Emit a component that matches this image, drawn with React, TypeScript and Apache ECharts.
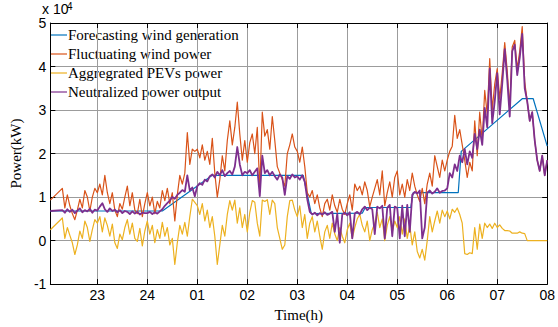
import React, { useEffect, useRef } from "react";
import * as echarts from "echarts";

// ---- axis ticks ----
const HOUR_TICKS = [23, 24, 25, 26, 27, 28, 29, 30, 31, 32];
const HOUR_LABELS = ["23", "24", "01", "02", "03", "04", "05", "06", "07", "08"];
const X_MIN = 22.06;
const X_MAX = 32;
const Y_MIN = -1;
const Y_MAX = 5;

// ---- sampling (hours) ----
const leadTime = 22.06;
const sampleStart = 22.3;
const sampleStep = 0.05;

// ---- values in units of 10^4 kW ----
const forecastTimes = [22.06, 24.3, 25.3, 27.12, 27.28, 28.3, 28.36, 29.27, 29.32, 30.22, 30.28, 31.5, 31.72, 32.0];
const forecastPower = [0.68, 0.68, 1.5, 1.5, 0.62, 0.63, 0.76, 0.76, 1.1, 1.1, 2.05, 3.26, 3.26, 2.17];

const leadWind = 0.93;
const leadPev = 0.25;
const leadNeutral = 0.68;

const windPower = [
  1.20, 0.75, 1.05, 0.80, 0.62, 0.48, 0.70, 0.95, 0.75, 1.15, 1.00, 0.68, 1.00, 1.20,
  1.10, 1.30, 1.05, 1.50, 1.10, 0.85, 1.10, 0.70, 0.55, 0.85, 0.72, 1.00, 1.25, 0.80, 1.10, 0.70, 0.62, 0.95, 0.55, 0.85,
  1.10, 0.80, 1.00, 0.62, 0.90, 0.75, 1.15, 0.92, 1.20, 0.85, 1.10, 0.45, 1.05, 1.50, 1.30, 1.55, 2.48, 1.75, 2.10, 2.05,
  2.10, 1.90, 2.20, 1.85, 2.05, 1.75, 2.35, 1.55, 1.00, 1.40, 1.95, 1.60, 2.30, 2.75, 2.20, 2.60, 3.18, 2.45, 1.85, 2.30,
  1.80, 2.25, 2.45, 2.00, 2.60, 1.20, 2.95, 2.40, 2.55, 2.10, 2.85, 2.30, 1.70, 1.55, 1.40, 1.25, 2.00, 2.20, 2.45, 2.15,
  2.05, 1.80, 2.15, 1.70, 1.10, 1.00, 1.15, 0.85, 1.05, 0.75, 0.55, 0.85, 0.95, 0.70, 1.05, 0.80, 0.65, 0.95, 0.72, 0.60,
  0.85, 1.05, 0.70, 1.30, 1.15, 1.25, 1.05, 1.35, 1.15, 0.78, 1.00, 1.20, 1.40, 1.05, 1.60, 0.80, 1.10, 1.35, 1.00, 1.45,
  1.60, 1.05, 1.30, 1.00, 1.40, 1.15, 1.55, 1.25, 1.05, 0.90, 1.20, 0.85, 1.30, 1.55, 1.25, 1.95, 1.70, 1.45, 1.85, 1.60,
  1.85, 2.05, 2.17, 2.88, 2.35, 2.55, 2.20, 1.85, 1.45, 1.80, 1.60, 2.75, 1.95, 2.95, 2.30, 3.45, 2.90, 4.18, 3.00, 3.60,
  3.95, 3.25, 3.85, 4.55, 3.90, 3.05, 4.45, 4.60, 3.95, 4.35, 4.92, 3.65, 3.20, 2.75, 2.95, 2.30, 1.85, 1.60, 1.95, 1.50,
  1.85,
];

const pevPower = [
  0.52, 0.05, 0.30, 0.12, -0.05, -0.32, -0.10, 0.22, 0.05, 0.45, 0.30, -0.02, 0.25, 0.48,
  0.40, 0.55, 0.20, 0.52, 0.35, 0.10, 0.38, -0.05, -0.18, 0.15, 0.02, 0.30, 0.48, 0.15, 0.40, 0.05, -0.02, 0.28, -0.12, 0.22,
  0.45, 0.15, 0.35, -0.05, 0.25, 0.05, 0.42, 0.10, 0.30, -0.10, 0.05, -0.55, -0.05, 0.35, 0.15, 0.42, 0.10, 0.55, 0.95, 0.88,
  0.80, 0.60, 0.85, 0.45, 0.70, 0.30, 0.55, 0.10, -0.55, -0.10, 0.35, 0.10, 0.60, 0.92, 0.70, 0.93, 0.40, 0.75, 0.30, 0.60,
  0.20, 0.65, 0.92, 0.88, 0.40, 0.10, 0.93, 0.90, 0.94, 0.60, 0.93, 0.85, 0.30, 0.05, -0.20, -0.10, 0.55, 0.92, 0.93, 0.70,
  0.55, 0.80, 0.30, 0.60, 0.05, 0.40, 0.55, 0.20, 0.45, 0.10, -0.20, 0.20, 0.35, 0.05, 0.40, 0.15, 0.00, 0.30, 0.10, -0.05,
  0.25, 0.40, 0.05, 0.30, 0.50, 0.60, 0.35, 0.20, 0.45, 0.00, 0.25, 0.40, 0.65, 0.30, 0.50, 0.00, 0.35, 0.55, 0.20, 0.45,
  0.30, 0.55, 0.15, 0.50, 0.05, 0.35, -0.10, 0.20, -0.25, -0.40, -0.20, -0.45, 0.00, 0.55, 0.20, 0.45, 0.68, 0.40, 0.70, 0.55,
  0.68, 0.50, 0.72, 0.65, 0.75, 0.60, 0.40, -0.30, -0.32, -0.28, -0.30, 0.30, -0.20, 0.38, 0.05, 0.40, 0.30, 0.38, 0.28, 0.40,
  0.30, 0.36, 0.28, 0.23, 0.23, 0.22, 0.17, 0.17, 0.17, 0.20, 0.17, 0.16, 0.00, 0.00, 0.00, 0.00, 0.00, 0.00, 0.00, 0.00,
  0.00,
];

const neutralPower = [
  0.70, 0.64, 0.72, 0.66, 0.71, 0.63, 0.69, 0.74, 0.65, 0.70, 0.67, 0.73, 0.64, 0.71,
  0.69, 0.78, 0.86, 0.72, 0.66, 0.74, 0.68, 0.71, 0.65, 0.70, 0.63, 0.68, 0.66, 0.61, 0.67, 0.62, 0.66, 0.60, 0.64, 0.63,
  0.63, 0.66, 0.61, 0.65, 0.62, 0.67, 0.72, 0.80, 0.86, 0.92, 1.00, 0.96, 1.05, 1.10, 1.16, 1.12, 1.50, 1.15, 1.22, 1.02,
  1.25, 1.32, 1.28, 1.40, 1.36, 1.48, 1.52, 1.45, 1.58, 1.50, 1.62, 1.48, 1.55, 1.60, 1.52, 1.70, 2.15, 1.75, 1.50, 1.58,
  1.55, 1.62, 1.50, 1.58, 1.66, 1.02, 1.95, 1.55, 1.62, 1.50, 1.58, 1.48, 1.40, 1.52, 1.45, 1.05, 1.48, 1.42, 1.52, 1.45,
  1.48, 1.40, 1.50, 1.35, 0.95, 0.66, 0.60, 0.64, 0.58, 0.63, 0.60, 0.65, 0.59, 0.62, 0.66, 0.20, 0.62, -0.05, 0.60, 0.64,
  0.58, 0.65, 0.05, 0.62, 0.66, 0.60, 0.72, 0.78, 0.70, 0.76, 0.72, 0.15, 0.78, 0.74, 0.80, 0.05, 0.75, 0.82, 0.10, 0.78,
  0.75, 0.05, 0.80, 0.10, 0.82, 0.20, 1.05, 1.12, 1.08, 1.15, 0.05, 0.30, 1.10, 1.15, 1.08, 1.12, 1.20, 1.10, 1.14, 1.15,
  1.20, 1.55, 1.45, 1.75, 1.60, 1.95, 1.80, 2.10, 1.75, 2.05, 1.90, 2.45, 2.10, 2.55, 2.20, 3.05, 2.60, 3.95, 2.70, 3.20,
  3.85, 2.90, 3.60, 4.40, 3.70, 2.85, 4.35, 4.50, 3.80, 4.20, 4.75, 3.50, 3.20, 2.75, 2.95, 2.30, 1.85, 1.60, 1.95, 1.50,
  1.85,
];

const LEGEND_NAMES = [
  "Forecasting wind generation",
  "Fluctuating wind power",
  "Aggregrated PEVs power",
  "Neutralized power output",
];
const COLORS = ["#0072BD", "#D95319", "#EDB120", "#7E2F8E"];

function sampled(lead: number, values: number[]) {
  const pts: number[][] = [[leadTime, lead]];
  values.forEach((v, i) => {
    pts.push([Math.round((sampleStart + i * sampleStep) * 1000) / 1000, v]);
  });
  return pts;
}

export default function App() {
  const ref = useRef<HTMLDivElement>(null);
  useEffect(() => {
    document.body.style.margin = "0";
    if (!ref.current) return;
    const chart = echarts.init(ref.current, undefined, { renderer: "svg" });
    const sans = "Liberation Sans";
    const serif = "Liberation Serif";
    const gridColor = "#9c9c9c";
    const tickCommon = {
      show: true,
      inside: true,
      length: 5,
      lineStyle: { color: "#000", width: 1 },
    };
    const lineCommon = { show: true, onZero: false, lineStyle: { color: "#000", width: 1 } };

    const forecastData = forecastTimes.map((t, i) => [t, forecastPower[i]]);

    const legendRowY = [35, 54, 73, 92];
    const legendChildren: any[] = [
      {
        type: "rect",
        shape: { x: 0, y: 0, width: 204, height: 78 },
        style: { fill: "#fff" },
      },
    ];
    LEGEND_NAMES.forEach((name, i) => {
      const ly = legendRowY[i] - 24;
      legendChildren.push({
        type: "line",
        shape: { x1: 10, y1: ly, x2: 26, y2: ly },
        style: { stroke: COLORS[i], lineWidth: 1.2 },
      });
      legendChildren.push({
        type: "text",
        x: 27,
        y: ly,
        style: {
          text: name,
          fontFamily: serif,
          fontSize: 15,
          fill: "#000",
          verticalAlign: "middle",
          align: "left",
        },
      });
    });

    chart.setOption({
      animation: false,
      backgroundColor: "#fff",
      grid: { left: 40, right: 8, top: 23, bottom: 39 },
      xAxis: [
        {
          type: "value",
          min: X_MIN,
          max: X_MAX,
          position: "bottom",
          axisLine: lineCommon,
          axisTick: { ...tickCommon, customValues: HOUR_TICKS },
          axisLabel: {
            customValues: HOUR_TICKS,
            formatter: (v: number) => HOUR_LABELS[HOUR_TICKS.indexOf(Math.round(v))] ?? "",
            fontFamily: sans,
            fontSize: 14,
            color: "#000",
            margin: 4,
          },
          splitLine: { show: true, lineStyle: { color: gridColor, width: 1 } },
          name: "Time(h)",
          nameLocation: "middle",
          nameGap: 21,
          nameTextStyle: { fontFamily: serif, fontSize: 15, color: "#000" },
        },
        {
          type: "value",
          min: X_MIN,
          max: X_MAX,
          position: "top",
          axisLine: lineCommon,
          axisTick: { ...tickCommon, customValues: HOUR_TICKS },
          axisLabel: { show: false },
          splitLine: { show: false },
        },
      ],
      yAxis: [
        {
          type: "value",
          min: Y_MIN,
          max: Y_MAX,
          interval: 1,
          position: "left",
          axisLine: lineCommon,
          axisTick: tickCommon,
          axisLabel: {
            fontFamily: sans,
            fontSize: 14,
            color: "#000",
            margin: 4,
            showMinLabel: true,
            showMaxLabel: true,
            hideOverlap: false,
          },
          splitLine: { show: true, lineStyle: { color: gridColor, width: 1 } },
          name: "Power(kW)",
          nameLocation: "middle",
          nameGap: 19,
          nameTextStyle: { fontFamily: serif, fontSize: 15, color: "#000" },
        },
        {
          type: "value",
          min: Y_MIN,
          max: Y_MAX,
          interval: 1,
          position: "right",
          axisLine: lineCommon,
          axisTick: tickCommon,
          axisLabel: { show: false },
          splitLine: { show: false },
        },
      ],
      graphic: [
        {
          type: "text",
          x: 42,
          y: 9,
          z: 120,
          style: { text: "x 10", fontFamily: sans, fontSize: 14, fill: "#000", verticalAlign: "middle" },
        },
        {
          type: "text",
          x: 67,
          y: 6,
          z: 120,
          style: { text: "4", fontFamily: sans, fontSize: 10, fill: "#000", verticalAlign: "middle" },
        },
        {
          type: "group",
          x: 41,
          y: 24,
          z: 100,
          children: legendChildren,
        },
      ],
      series: [
        {
          name: LEGEND_NAMES[0],
          type: "line",
          data: forecastData,
          showSymbol: false,
          symbol: "none",
          lineStyle: { color: COLORS[0], width: 1.2 },
          z: 2,
        },
        {
          name: LEGEND_NAMES[1],
          type: "line",
          data: sampled(leadWind, windPower),
          showSymbol: false,
          symbol: "none",
          lineStyle: { color: COLORS[1], width: 1.2, join: "round" },
          z: 3,
        },
        {
          name: LEGEND_NAMES[2],
          type: "line",
          data: sampled(leadPev, pevPower),
          showSymbol: false,
          symbol: "none",
          lineStyle: { color: COLORS[2], width: 1.2, join: "round" },
          z: 4,
        },
        {
          name: LEGEND_NAMES[3],
          type: "line",
          data: sampled(leadNeutral, neutralPower),
          showSymbol: false,
          symbol: "none",
          lineStyle: { color: COLORS[3], width: 1.8, join: "round" },
          z: 5,
        },
      ],
    });
    return () => chart.dispose();
  }, []);
  return <div ref={ref} style={{ width: 558, height: 327 }} />;
}
